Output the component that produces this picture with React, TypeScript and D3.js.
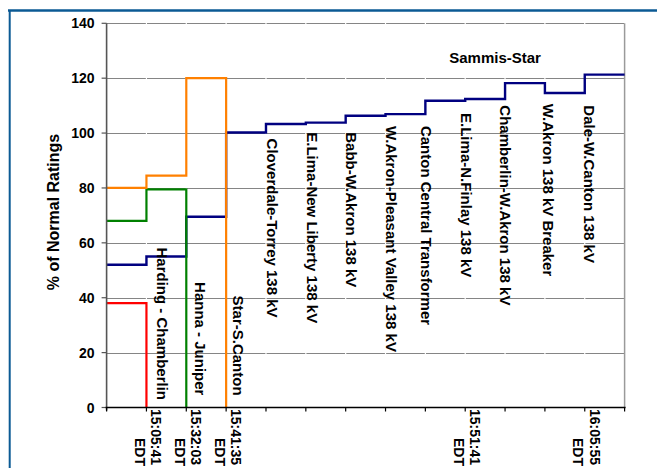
import React from "react";
import * as d3 from "d3";

// ---------- data ----------
const categoryIndex = [0, 1, 2, 3, 4, 5, 6, 7, 8, 9, 10, 11, 12, 13];
const xTickLabels = ["", "15:05:41", "15:32:03", "15:41:35", "", "", "", "", "", "15:51:41", "", "", "16:05:55", ""];
const xTickSuffix = "EDT";
const yTicks = [0, 20, 40, 60, 80, 100, 120, 140];
const yTitle = "% of Normal Ratings";

const redValues = [38, 0];
const greenValues = [68, 79.5, 0];
const orangeValues = [80, 84.5, 120, 0];
const blueValues = [52, 55, 69.5, 100.2, 103.3, 103.8, 106.3, 106.9, 111.8, 112.4, 118.2, 114.6, 121.3, 121.3];

const annotationTexts = [
  "Harding - Chamberlin",
  "Hanna - Juniper",
  "Star-S.Canton",
  "Cloverdale-Torrey 138 kV",
  "E.Lima-New Liberty 138 kV",
  "Babb-W.Akron 138 kV",
  "W.Akron-Pleasant Valley 138 kV",
  "Canton Central Transformer",
  "E.Lima-N.Finlay 138 kV",
  "Chamberlin-W.Akron 138 kV",
  "W.Akron 138 kV Breaker",
  "Dale-W.Canton 138 kV",
];
const annotationTicks = [1, 2, 3, 4, 5, 6, 7, 8, 9, 10, 11, 12];
const annotationTops = [58.3, 45.7, 40.8, 98.0, 100.3, 100.3, 102.6, 102.6, 107.3, 110.1, 110.7, 110.1];
const seriesLabel = "Sammis-Star";

// ---------- layout ----------
const W = 657;
const H = 468;
const annotationDx = [11, 8.5, 7, 1.5, 1, 0.5, 0.5, -4.5, -4, -5, -2.4, -0.5];
const FONT = "'Liberation Sans', Arial, Helvetica, sans-serif";
const FRAME = "#0b5a94";
const GRID = "#858585";

export default function App() {
  const x = d3.scaleLinear().domain([0, 13]).range([106.6, 624.6]);
  const y = d3.scaleLinear().domain([0, 140]).range([407.5, 23.3]);

  const line = d3
    .line<number>()
    .x((_, i) => x(categoryIndex[i]))
    .y((v) => y(v))
    .curve(d3.curveStepAfter);

  const series = [
    { values: blueValues, color: "#000080", width: 2.4 },
    { values: redValues, color: "#ff0000", width: 2.2 },
    { values: greenValues, color: "#008000", width: 2.2 },
    { values: orangeValues, color: "#ff8000", width: 2.2 },
  ];

  const x0 = x(0);
  const x1 = x(13);
  const yBase = y(0);

  return (
    <svg
      width={W}
      height={H}
      style={{ position: "absolute", left: 0, top: 0, background: "#fff" }}
      fontFamily={FONT}
    >
      <rect x={0} y={0} width={W} height={H} fill="#fff" />
      {/* slide frame */}
      <line x1={8} x2={W} y1={10.5} y2={10.5} stroke={FRAME} strokeWidth={2.6} />
      <line x1={9.7} x2={9.7} y1={10} y2={H} stroke={FRAME} strokeWidth={2} />

      {/* horizontal gridlines, segmented at category ticks */}
      {yTicks
        .filter((t) => t > 0)
        .map((t) =>
          categoryIndex.slice(0, -1).map((c) => (
            <line
              key={`g${t}-${c}`}
              x1={x(c) + (c === 0 ? 0 : 0.6)}
              x2={x(c + 1) - 0.6}
              y1={Math.round(y(t)) + 0.5}
              y2={Math.round(y(t)) + 0.5}
              stroke={GRID}
              strokeWidth={1}
            />
          ))
        )}
      {/* plot right border */}
      <line x1={x1} x2={x1} y1={y(140)} y2={yBase} stroke="#9a9a9a" strokeWidth={1.5} />

      {/* series */}
      {series.map((s, i) => (
        <path key={i} d={line(s.values) || ""} fill="none" stroke={s.color} strokeWidth={s.width} />
      ))}

      {/* y axis */}
      <line x1={x0} x2={x0} y1={y(140)} y2={yBase + 3} stroke="#555" strokeWidth={1.6} />
      {yTicks.map((t) => (
        <g key={`yt${t}`}>
          <line x1={x0 - 5} x2={x0} y1={y(t)} y2={y(t)} stroke="#555" strokeWidth={1.2} />
          <text
            x={94.5}
            y={y(t)}
            dy="0.36em"
            textAnchor="end"
            fontSize={14}
            fontWeight="bold"
            fill="#000"
          >
            {t}
          </text>
        </g>
      ))}
      <text
        transform={`translate(58.5, 212) rotate(-90)`}
        textAnchor="middle"
        fontSize={16}
        fontWeight="bold"
        fill="#000"
      >
        {yTitle}
      </text>

      {/* x axis */}
      <line x1={x0 - 1} x2={x1 + 1} y1={yBase} y2={yBase} stroke="#000" strokeWidth={1.6} />
      {categoryIndex.map((c) => (
        <line key={`xt${c}`} x1={x(c)} x2={x(c)} y1={yBase} y2={yBase + 4} stroke="#000" strokeWidth={1.2} />
      ))}
      {categoryIndex.map((c, i) =>
        xTickLabels[i] ? (
          <g key={`xl${c}`} fontSize={14} fontWeight="bold" fill="#000">
            <text transform={`translate(${x(c) + 5}, 409) rotate(90)`} textAnchor="start">
              {xTickLabels[i]}
            </text>
            <text transform={`translate(${x(c) - 11.5}, 466) rotate(90)`} textAnchor="end">
              {xTickSuffix}
            </text>
          </g>
        ) : null
      )}

      {/* annotations */}
      {annotationTexts.map((t, i) => (
        <text
          key={`an${i}`}
          transform={`translate(${x(annotationTicks[i]) + annotationDx[i]}, ${y(annotationTops[i])}) rotate(90)`}
          fontSize={15}
          fontWeight="bold"
          fill="#000"
        >
          {t}
        </text>
      ))}
      <text x={x(9.75)} y={y(125.6)} textAnchor="middle" fontSize={15} fontWeight="bold" fill="#000">
        {seriesLabel}
      </text>
    </svg>
  );
}
